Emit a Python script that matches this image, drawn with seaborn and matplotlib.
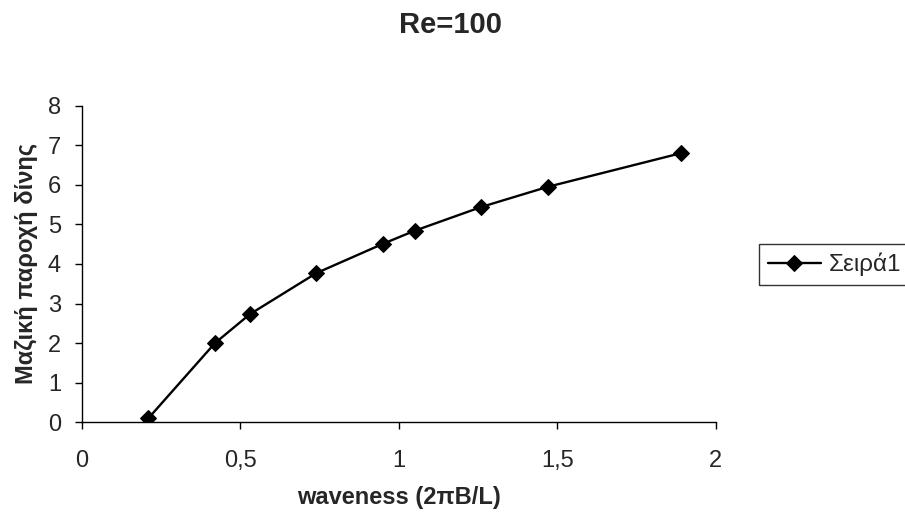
# Re=100 : vortex mass flux vs waveness
import pandas as pd
import matplotlib
matplotlib.use("Agg")
import matplotlib.pyplot as plt
import seaborn as sns

# ------------------------------------
# Data
# ------------------------------------

waveness = [0.21, 0.42, 0.53, 0.74, 0.95, 1.05, 1.26, 1.47, 1.89]
flux = [0.10, 2.00, 2.73, 3.77, 4.51, 4.84, 5.44, 5.95, 6.80]

series_name = "Σειρά1"
x_ticks = [0, 0.5, 1, 1.5, 2]
x_tick_labels = ["0", "0,5", "1", "1,5", "2"]
y_ticks = [0, 1, 2, 3, 4, 5, 6, 7, 8]

df = pd.DataFrame({"waveness": waveness, "flux": flux})

# ------------------------------------
# Plot
# ------------------------------------

sns.set_style("white")
plt.rcParams["font.family"] = ["Liberation Sans", "DejaVu Sans"]

fig = plt.figure(figsize=(9.05, 5.18), dpi=100)
ax = fig.add_axes([0.0903, 0.1847, 0.7007, 0.6113])

sns.lineplot(data=df, x="waveness", y="flux", ax=ax, color="black",
             marker="D", markersize=8, markeredgecolor="black",
             linewidth=1.7, label=series_name)

ax.set_xlim(0, 2)
ax.set_ylim(0, 8)
ax.set_xticks(x_ticks)
ax.set_xticklabels(x_tick_labels)
ax.set_yticks(y_ticks)
ax.tick_params(axis="both", labelsize=17, length=5, width=1, color="black",
               direction="out", bottom=True, left=True)
ax.tick_params(axis="x", pad=15)
ax.tick_params(axis="y", pad=10)

sns.despine(ax=ax)
for side in ["left", "bottom"]:
    ax.spines[side].set_color("black")
    ax.spines[side].set_linewidth(1)

ax.set_xlabel("waveness (2πB/L)", fontsize=17, fontweight="bold", labelpad=10)
ax.set_ylabel("Μαζική παροχή δίνης", fontsize=17, fontweight="bold", labelpad=7)
fig.text(0.498, 0.952, "Re=100", ha="center", va="center",
         fontsize=21, fontweight="bold")

leg = ax.legend(loc="upper left", bbox_to_anchor=(759 / 905, 1 - 244 / 518),
                bbox_transform=fig.transFigure, frameon=True, fancybox=False,
                fontsize=17.5, handlelength=2.2, handletextpad=0.3,
                borderpad=0.35, borderaxespad=0)
leg.get_frame().set_edgecolor("black")
leg.get_frame().set_linewidth(1)

fig.savefig("out.png", dpi=100)
